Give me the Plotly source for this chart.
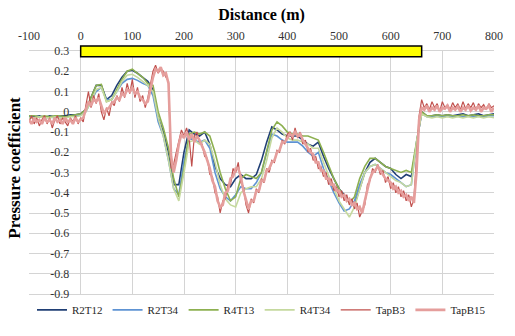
import plotly.graph_objects as go

# ---------------- data ----------------
X_SMOOTH = list(range(-100, 801, 10))   # sample positions (m)
X_TAP = list(range(-100, 801, 5))       # sample positions (m)

R2T12 = [
    -0.02, -0.025, -0.02, -0.03, -0.02, -0.025, -0.02, -0.02, -0.015, -0.015,
    -0.01, 0.01, 0.07, 0.13, 0.13, 0.06, 0.08, 0.13, 0.17, 0.20,
    0.205, 0.19, 0.17, 0.15, 0.11, -0.03, -0.10, -0.20, -0.36, -0.36,
    -0.20, -0.09, -0.11, -0.12, -0.10, -0.16, -0.27, -0.33, -0.36, -0.37,
    -0.33, -0.31, -0.33, -0.33, -0.31, -0.24, -0.15, -0.075, -0.09, -0.11,
    -0.12, -0.12, -0.12, -0.14, -0.16, -0.17, -0.15, -0.22, -0.28, -0.33,
    -0.38, -0.41, -0.44, -0.46, -0.38, -0.30, -0.25, -0.23, -0.25, -0.27,
    -0.28, -0.31, -0.33, -0.31, -0.32, -0.15, 0.00, -0.02, -0.02, -0.015,
    -0.02, -0.015, -0.02, -0.015, -0.01, -0.02, -0.015, -0.01, -0.02, -0.015,
    -0.01,
]
R2T34 = [
    -0.025, -0.03, -0.025, -0.03, -0.025, -0.03, -0.025, -0.025, -0.02, -0.02,
    -0.015, 0.0, 0.05, 0.10, 0.12, 0.06, 0.06, 0.10, 0.14, 0.16,
    0.165, 0.155, 0.14, 0.13, 0.08, -0.05, -0.12, -0.24, -0.38, -0.41,
    -0.24, -0.13, -0.14, -0.15, -0.14, -0.18, -0.30, -0.38, -0.42, -0.44,
    -0.41, -0.37, -0.38, -0.38, -0.35, -0.30, -0.20, -0.11, -0.12, -0.14,
    -0.15, -0.15, -0.15, -0.17, -0.20, -0.22, -0.20, -0.28, -0.34, -0.40,
    -0.45, -0.49, -0.48, -0.44, -0.36, -0.30, -0.27, -0.26, -0.28, -0.30,
    -0.31, -0.33, -0.35, -0.37, -0.36, -0.15, -0.01, -0.025, -0.025, -0.02,
    -0.025, -0.02, -0.025, -0.02, -0.025, -0.02, -0.025, -0.02, -0.025, -0.02,
    -0.02,
]
R4T13 = [
    -0.02, -0.02, -0.025, -0.02, -0.025, -0.02, -0.02, -0.025, -0.02, -0.015,
    -0.01, 0.01, 0.07, 0.13, 0.135, 0.05, 0.06, 0.11, 0.16, 0.20,
    0.21, 0.19, 0.17, 0.14, 0.13, 0.00, -0.08, -0.18, -0.33, -0.42,
    -0.28, -0.11, -0.10, -0.11, -0.10, -0.12, -0.20, -0.30, -0.38, -0.44,
    -0.42, -0.33, -0.31, -0.32, -0.33, -0.30, -0.20, -0.09, -0.05, -0.07,
    -0.10, -0.11, -0.11, -0.12, -0.12, -0.13, -0.14, -0.20, -0.27, -0.33,
    -0.38, -0.42, -0.45, -0.42, -0.33, -0.27, -0.23, -0.23, -0.25, -0.27,
    -0.28, -0.29, -0.30, -0.29, -0.30, -0.15, 0.00, -0.02, -0.02, -0.015,
    -0.02, -0.015, -0.02, -0.02, -0.015, -0.02, -0.015, -0.02, -0.02, -0.015,
    -0.015,
]
R4T34 = [
    -0.03, -0.03, -0.025, -0.03, -0.03, -0.025, -0.03, -0.03, -0.025, -0.025,
    -0.02, 0.0, 0.05, 0.11, 0.12, 0.05, 0.06, 0.10, 0.15, 0.18,
    0.185, 0.17, 0.15, 0.13, 0.10, -0.03, -0.12, -0.24, -0.38, -0.44,
    -0.30, -0.15, -0.14, -0.16, -0.14, -0.16, -0.25, -0.36, -0.43, -0.46,
    -0.47, -0.40, -0.38, -0.37, -0.37, -0.33, -0.24, -0.13, -0.08, -0.10,
    -0.13, -0.14, -0.14, -0.15, -0.16, -0.18, -0.18, -0.25, -0.32, -0.38,
    -0.44, -0.48, -0.52, -0.47, -0.38, -0.30, -0.27, -0.26, -0.28, -0.30,
    -0.32, -0.34, -0.35, -0.37, -0.36, -0.15, -0.01, -0.025, -0.03, -0.025,
    -0.03, -0.025, -0.03, -0.025, -0.03, -0.025, -0.03, -0.025, -0.03, -0.025,
    -0.03,
]
TAPB3 = [
    -0.05, -0.02, -0.06, -0.03, -0.07, -0.04, -0.02, -0.06, -0.03, -0.08,
    -0.04, -0.02, -0.06, -0.03, -0.05, -0.07, -0.03, -0.05, -0.02, -0.06,
    -0.03, -0.05, 0.03, 0.10, 0.02, 0.08, 0.04, 0.09, 0.00, -0.04,
    0.02, -0.02, 0.05, 0.03, 0.08, 0.05, 0.12, 0.07, 0.14, 0.09,
    0.16, 0.07, 0.12, 0.05, 0.08, 0.02, 0.07, 0.13, 0.20, 0.23,
    0.19, 0.21, 0.20, 0.17, 0.15, -0.28, -0.26, -0.20, -0.14, -0.09,
    -0.12, -0.08, -0.13, -0.27, -0.12, -0.10, -0.15, -0.16, -0.22, -0.23,
    -0.31, -0.32, -0.40, -0.42, -0.50, -0.44, -0.43, -0.36, -0.36, -0.28,
    -0.30, -0.25, -0.35, -0.37, -0.46, -0.50, -0.43, -0.45, -0.38, -0.40,
    -0.33, -0.35, -0.28, -0.30, -0.24, -0.25, -0.19, -0.20, -0.14, -0.16,
    -0.11, -0.10, -0.14, -0.08, -0.13, -0.10, -0.16, -0.14, -0.20, -0.18,
    -0.24, -0.22, -0.28, -0.27, -0.32, -0.30, -0.36, -0.33, -0.39, -0.37,
    -0.42, -0.39, -0.44, -0.41, -0.46, -0.43, -0.48, -0.45, -0.52, -0.49,
    -0.46, -0.36, -0.34, -0.28, -0.30, -0.26, -0.31, -0.29, -0.35, -0.32,
    -0.38, -0.35, -0.40, -0.37, -0.42, -0.39, -0.44, -0.41, -0.47, -0.43,
    -0.25, -0.02, 0.06, 0.02, 0.04, 0.01, 0.05, 0.02, 0.04, 0.00,
    0.05, 0.02, 0.035, 0.01, 0.045, 0.02, 0.04, 0.01, 0.05, 0.015,
    0.04, 0.02, 0.045, 0.01, 0.04, 0.02, 0.035, 0.01, 0.04, 0.02,
    0.03,
]
TAPB15 = [
    -0.04, -0.06, -0.03, -0.05, -0.04, -0.06, -0.03, -0.05, -0.04, -0.06,
    -0.03, -0.05, -0.04, -0.06, -0.03, -0.05, -0.04, -0.06, -0.03, -0.05,
    -0.04, -0.03, 0.01, 0.05, 0.03, 0.06, 0.05, 0.07, 0.03, -0.01,
    0.01, 0.02, 0.04, 0.05, 0.07, 0.06, 0.09, 0.08, 0.11, 0.10,
    0.12, 0.09, 0.10, 0.07, 0.06, 0.04, 0.05, 0.11, 0.17, 0.21,
    0.20, 0.22, 0.18, 0.19, 0.14, -0.22, -0.30, -0.24, -0.16, -0.11,
    -0.13, -0.10, -0.14, -0.11, -0.15, -0.12, -0.14, -0.17, -0.20, -0.24,
    -0.28, -0.34, -0.37, -0.44, -0.47, -0.46, -0.40, -0.39, -0.33, -0.32,
    -0.28, -0.28, -0.32, -0.39, -0.43, -0.48, -0.44, -0.44, -0.39, -0.39,
    -0.34, -0.34, -0.29, -0.28, -0.25, -0.24, -0.20, -0.19, -0.15, -0.15,
    -0.13, -0.11, -0.12, -0.10, -0.12, -0.11, -0.14, -0.16, -0.18, -0.20,
    -0.21, -0.25, -0.25, -0.29, -0.29, -0.33, -0.33, -0.36, -0.36, -0.39,
    -0.39, -0.42, -0.41, -0.44, -0.43, -0.46, -0.45, -0.48, -0.47, -0.50,
    -0.44, -0.38, -0.33, -0.30, -0.29, -0.27, -0.29, -0.31, -0.33, -0.34,
    -0.35, -0.38, -0.37, -0.40, -0.39, -0.42, -0.41, -0.44, -0.42, -0.45,
    -0.30, -0.04, 0.02, 0.01, 0.03, 0.00, 0.02, 0.01, 0.03, 0.00,
    0.02, 0.015, 0.03, 0.00, 0.02, 0.01, 0.025, 0.00, 0.02, 0.01,
    0.03, 0.005, 0.02, 0.01, 0.03, 0.00, 0.02, 0.015, 0.03, 0.00,
    0.02,
]

SERIES = [
    ("R2T12", X_SMOOTH, R2T12, "#203F75", 1.6),
    ("R2T34", X_SMOOTH, R2T34, "#5E93D3", 1.6),
    ("R4T13", X_SMOOTH, R4T13, "#8DB050", 1.6),
    ("R4T34", X_SMOOTH, R4T34, "#C5D99E", 1.6),
    ("TapB3", X_TAP, TAPB3, "#C0504D", 1.2),
    ("TapB15", X_TAP, TAPB15, "#E59E9C", 2.6),
]

X_TICKS = [-100, 0, 100, 200, 300, 400, 500, 600, 700, 800]
X_TICKTEXT = ["-100", "0", "100", "200", "300", "400", "500", "600", "700", "800"]
Y_TICKS = [-0.9, -0.8, -0.7, -0.6, -0.5, -0.4, -0.3, -0.2, -0.1, 0, 0.1, 0.2, 0.3]
Y_TICKTEXT = ["-0.9", "-0.8", "-0.7", "-0.6", "-0.5", "-0.4", "-0.3", "-0.2", "-0.1",
              "0", "0.1", "0.2", "0.3"]

X_RANGE = [-100, 800]
Y_RANGE = [-0.9, 0.3]

# bridge (yellow bar) extent, data units
BRIDGE_START = 0
BRIDGE_END = 660
BRIDGE_BOTTOM = 0.272
BRIDGE_TOP = 0.325

FONT = "Liberation Serif"

# ---------------- figure ----------------
fig = go.Figure()
for name, xs, ys, color, width in SERIES:
    fig.add_trace(go.Scatter(x=xs, y=ys, mode="lines", name=name,
                             line=dict(color=color, width=width)))


def to_paper_y(v):
    return (v - Y_RANGE[0]) / (Y_RANGE[1] - Y_RANGE[0])


fig.add_shape(type="rect", xref="x", yref="paper",
              x0=BRIDGE_START, x1=BRIDGE_END,
              y0=to_paper_y(BRIDGE_BOTTOM), y1=to_paper_y(BRIDGE_TOP),
              fillcolor="#FFFF00", line=dict(color="black", width=1.5), layer="above")

yaxis_pos = (0 - X_RANGE[0]) / (X_RANGE[1] - X_RANGE[0])

fig.update_layout(
    width=515, height=336,
    margin=dict(l=29, r=18, t=51, b=34),
    paper_bgcolor="white", plot_bgcolor="white",
    font=dict(family=FONT, size=12, color="#262626"),
    xaxis=dict(
        side="top", range=X_RANGE, tickvals=X_TICKS, ticktext=X_TICKTEXT,
        showgrid=True, gridcolor="#D4D4D4", gridwidth=1, zeroline=False,
        ticks="outside", ticklen=5, tickcolor="rgba(0,0,0,0)",
        tickfont=dict(family=FONT, size=12, color="#333333"),
        showline=True, linecolor="#D4D4D4", mirror=True,
        title=dict(text="<b>Distance (m)</b>", font=dict(family=FONT, size=16, color="black"),
                   standoff=4),
    ),
    yaxis=dict(
        range=Y_RANGE, tickvals=Y_TICKS, ticktext=Y_TICKTEXT,
        showgrid=True, gridcolor="#D4D4D4", gridwidth=1, zeroline=False,
        anchor="free", position=yaxis_pos,
        ticks="outside", ticklen=9, tickcolor="rgba(0,0,0,0)",
        tickfont=dict(family=FONT, size=12, color="#333333"),
        showline=False,
    ),
    legend=dict(orientation="h", x=0.5, xanchor="center",
                y=-0.125, yanchor="bottom",
                font=dict(family=FONT, size=11, color="#262626"),
                itemwidth=30, tracegroupgap=0, bgcolor="rgba(0,0,0,0)"),
    annotations=[dict(text="<b>Pressure coefficient</b>", xref="paper", yref="paper",
                      x=-0.03, y=0.52, textangle=-90, showarrow=False,
                      xanchor="center", yanchor="middle",
                      font=dict(family=FONT, size=17, color="black"))],
)

fig.write_html("out.html")
